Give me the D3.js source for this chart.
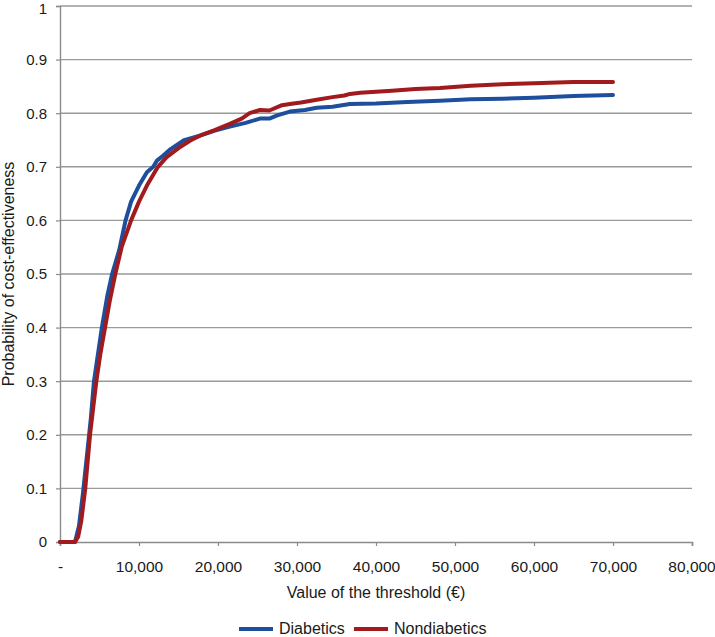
<!DOCTYPE html>
<html>
<head>
<meta charset="utf-8">
<script src="https://cdn.jsdelivr.net/npm/d3@7"></script>
<style>
  body { margin: 0; background: #fff; }
  text { font-family: "Liberation Sans", Arial, sans-serif; fill: #1a1a1a; }
</style>
</head>
<body>
<div id="chart"></div>
<script>
// threshold (EUR) vs probability of cost-effectiveness
var diabetics = [
  [0,0],[1900,0],[2400,0.03],[2900,0.09],[3400,0.16],[3900,0.23],[4300,0.30],[4800,0.35],
  [5300,0.40],[6000,0.46],[6600,0.50],[7000,0.52],[7500,0.545],[8300,0.60],[9000,0.635],
  [10000,0.665],[11000,0.69],[11800,0.70],[12300,0.712],[13000,0.72],[14000,0.733],
  [15600,0.749],[17700,0.758],[19500,0.767],[21500,0.775],[23500,0.782],[25300,0.79],
  [26500,0.79],[27500,0.796],[29100,0.803],[31000,0.806],[32500,0.81],[34500,0.812],
  [36700,0.817],[40000,0.818],[44000,0.821],[48100,0.823],[52000,0.826],[56000,0.827],
  [60000,0.829],[65000,0.832],[70000,0.834]
];
var nondiabetics = [
  [0,0],[1900,0],[2300,0.01],[2700,0.04],[3200,0.1],[3800,0.2],[4200,0.25],[4600,0.3],
  [5100,0.35],[5700,0.4],[6300,0.45],[7000,0.5],[7800,0.55],[9000,0.6],[10000,0.635],
  [11000,0.665],[12400,0.7],[13500,0.718],[15000,0.735],[16500,0.749],[17700,0.758],
  [19500,0.768],[21500,0.78],[23000,0.79],[24000,0.8],[25300,0.806],[26500,0.805],
  [28100,0.815],[29100,0.817],[30500,0.82],[32500,0.825],[34500,0.83],[36000,0.833],
  [36700,0.836],[38000,0.838],[42000,0.842],[45000,0.845],[48100,0.847],[52000,0.851],
  [56000,0.854],[60000,0.856],[65000,0.858],[70000,0.858]
];
var series_names = ["Diabetics", "Nondiabetics"];
var series_colors = ["#1d4f9c", "#a11a1d"];
var x_ticks = [0,10000,20000,30000,40000,50000,60000,70000,80000];
var y_ticks = [0,0.1,0.2,0.3,0.4,0.5,0.6,0.7,0.8,0.9,1];

var width = 715, height = 637;
var margin = {left: 60, right: 23, top: 6, bottom: 95};

var svg = d3.select("#chart").append("svg")
  .attr("width", width)
  .attr("height", height);

var x = d3.scaleLinear().domain([0, 80000]).range([margin.left, width - margin.right]);
var y = d3.scaleLinear().domain([0, 1]).range([height - margin.bottom, margin.top]);

// gridlines
svg.append("g").selectAll("line")
  .data(y_ticks.slice(1))
  .enter().append("line")
  .attr("x1", x(0)).attr("x2", x(80000))
  .attr("y1", function(d){ return y(d); })
  .attr("y2", function(d){ return y(d); })
  .attr("stroke", "#9a9a9a")
  .attr("stroke-width", 1.4);

// y axis
var yAxis = svg.append("g")
  .attr("transform", "translate(" + x(0) + ",0)")
  .call(d3.axisLeft(y).tickValues(y_ticks).tickSize(4).tickPadding(9)
    .tickFormat(function(d){ return d === 0 ? "0" : (d === 1 ? "1" : d3.format(".1f")(d)); }));
yAxis.select(".domain").attr("stroke", "#8a8a8a").attr("stroke-width", 1.4);
yAxis.selectAll(".tick line").attr("stroke", "#8a8a8a").attr("stroke-width", 1.2);
yAxis.selectAll("text").style("font-size", "15px").attr("fill", "#1a1a1a");
// top label sits right at the edge, nudge it down a little
yAxis.selectAll(".tick text").filter(function(d){ return d === 1; })
  .attr("dy", "0.5em");

// x axis
var xAxis = svg.append("g")
  .attr("transform", "translate(0," + y(0) + ")")
  .call(d3.axisBottom(x).tickValues(x_ticks).tickSize(4).tickSizeOuter(4).tickPadding(15)
    .tickFormat(function(d){ return d === 0 ? "-" : d3.format(",")(d); }));
xAxis.select(".domain").attr("stroke", "#8a8a8a").attr("stroke-width", 1.6);
xAxis.selectAll(".tick line").attr("stroke", "#8a8a8a").attr("stroke-width", 1.2);
xAxis.selectAll("text").style("font-size", "15.5px").attr("fill", "#1a1a1a");
// keep the last label inside the window
xAxis.selectAll(".tick text").filter(function(d){ return d === 80000; })
  .attr("text-anchor", "end").attr("dx", "1.5em");

// lines
var line = d3.line()
  .x(function(d){ return x(d[0]); })
  .y(function(d){ return y(d[1]); });

[diabetics, nondiabetics].forEach(function(s, i){
  svg.append("path")
    .datum(s)
    .attr("d", line)
    .attr("fill", "none")
    .attr("stroke", series_colors[i])
    .attr("stroke-width", 4)
    .attr("stroke-linejoin", "round")
    .attr("stroke-linecap", "round");
});

// axis titles
svg.append("text")
  .attr("x", (x(0) + x(80000)) / 2)
  .attr("y", 598)
  .attr("text-anchor", "middle")
  .style("font-size", "16px")
  .text("Value of the threshold (\u20ac)");

svg.append("text")
  .attr("transform", "translate(14," + (y(0.5)) + ") rotate(-90)")
  .attr("text-anchor", "middle")
  .style("font-size", "16px")
  .text("Probability of cost-effectiveness");

// legend
var legend = svg.append("g");
var lx = [239, 354];
series_names.forEach(function(n, i){
  legend.append("line")
    .attr("x1", lx[i]).attr("x2", lx[i] + 34)
    .attr("y1", 629).attr("y2", 629)
    .attr("stroke", series_colors[i])
    .attr("stroke-width", 4);
  legend.append("text")
    .attr("x", lx[i] + 40)
    .attr("y", 634)
    .style("font-size", "16px")
    .text(n);
});
</script>
</body>
</html>
